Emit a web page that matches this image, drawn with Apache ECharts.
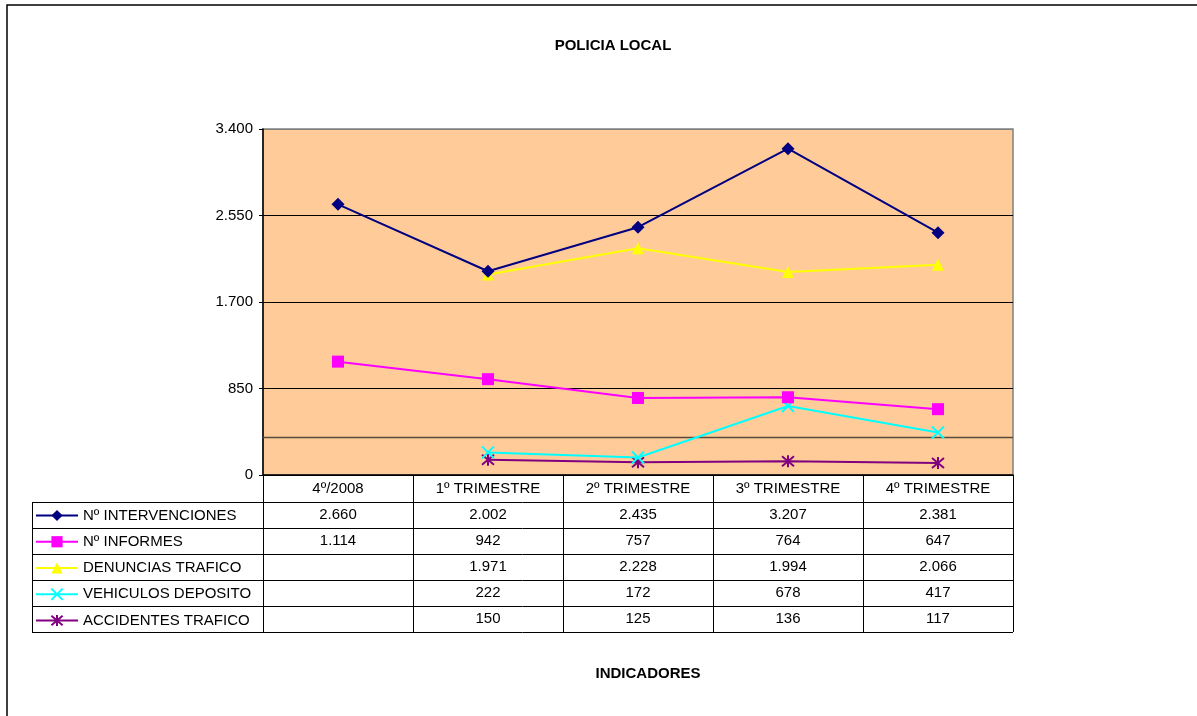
<!DOCTYPE html>
<html><head><meta charset="utf-8">
<script src="https://cdn.jsdelivr.net/npm/echarts@6/dist/echarts.min.js"></script>
<style>html,body{margin:0;padding:0;background:#fff}#c{width:1197px;height:716px}</style>
</head><body><div id="c"></div>
<script>
const categories = ['4º/2008', '1º TRIMESTRE', '2º TRIMESTRE', '3º TRIMESTRE', '4º TRIMESTRE'];
const seriesNames = ['Nº INTERVENCIONES', 'Nº INFORMES', 'DENUNCIAS TRAFICO', 'VEHICULOS DEPOSITO', 'ACCIDENTES TRAFICO'];
const intervenciones = [2660, 2002, 2435, 3207, 2381];
const informes = [1114, 942, 757, 764, 647];
const denuncias = [null, 1971, 2228, 1994, 2066];
const vehiculos = [null, 222, 172, 678, 417];
const accidentes = [null, 150, 125, 136, 117];
const yTicks = [0, 850, 1700, 2550, 3400];
const refLine = 372;

const allData = [intervenciones, informes, denuncias, vehiculos, accidentes];
const colors = ['#000080', '#FF00FF', '#FFFF00', '#00FFFF', '#800080'];
const symbols = ['diamond', 'rect', 'triangle', 'path://M0,0L10,10M10,0L0,10', 'path://M0,0L10,10M10,0L0,10M5,-1L5,11'];
const symSizes = [13, 12, 12, 12, 12];
const fmt = v => v == null ? '' : String(v).replace(/\B(?=(\d{3})+(?!\d))/g, '.');
const FONT = 'Liberation Sans, Arial';
const FS = 15;

const G = {left: 263, top: 129, right: 1013, bottom: 475};
const rowH = 26;
const tableLeft = 32;
const headerBottom = 502;

const chart = echarts.init(document.getElementById('c'));
const series = allData.map((d, i) => {
  const isStroke = i >= 3;
  return {
    name: seriesNames[i], type: 'line', data: d,
    symbol: symbols[i], symbolSize: symSizes[i], showSymbol: true,
    lineStyle: {color: colors[i], width: 2},
    itemStyle: isStroke ? {color: 'rgba(0,0,0,0)', borderColor: colors[i], borderWidth: 2} : {color: colors[i], borderWidth: 0},
    emphasis: {disabled: true},
    animation: false,
    z: 10 - i
  };
});
series[0].markLine = {
  silent: true, symbol: 'none', label: {show: false},
  lineStyle: {color: '#5a4a3a', width: 1.3, type: 'solid'},
  data: [{yAxis: refLine}]
};

chart.setOption({
  animation: false,
  title: [
    {text: 'POLICIA LOCAL', left: 608, top: 33, textAlign: 'center',
     textStyle: {fontFamily: FONT, fontSize: FS, fontWeight: 'bold', color: '#000'}},
    {text: 'INDICADORES', left: 643, top: 661, textAlign: 'center',
     textStyle: {fontFamily: FONT, fontSize: FS, fontWeight: 'bold', color: '#000'}}
  ],
  grid: {left: G.left, top: G.top, width: G.right - G.left, height: G.bottom - G.top,
         show: true, backgroundColor: '#FFCC99', borderColor: '#808080', borderWidth: 1.5},
  legend: {
    orient: 'vertical', left: 35, top: headerBottom + 6, padding: 0, itemGap: 11.25, itemWidth: 42, itemHeight: 14,
    data: seriesNames, selectedMode: false,
    textStyle: {fontFamily: FONT, fontSize: FS, color: '#000'}
  },
  xAxis: {
    type: 'category', data: categories, boundaryGap: true,
    axisLine: {lineStyle: {color: '#000', width: 1.5}},
    axisTick: {show: false},
    axisLabel: {fontFamily: FONT, fontSize: FS, color: '#000', margin: 6},
    splitLine: {show: false}
  },
  yAxis: {
    type: 'value', min: yTicks[0], max: yTicks[yTicks.length - 1], interval: yTicks[1] - yTicks[0],
    axisLine: {show: true, lineStyle: {color: '#000', width: 1.5}},
    axisTick: {show: true, length: 4, lineStyle: {color: '#000'}},
    axisLabel: {fontFamily: FONT, fontSize: FS, color: '#000', margin: 10, formatter: v => fmt(v)},
    splitLine: {show: true, lineStyle: {color: ['#000', '#000', '#000', '#000', '#808080'], width: 1}}
  },
  series
});

// Data table drawn as graphic elements
const colXs = categories.map((c, i) => chart.convertToPixel({xAxisIndex: 0}, i));
const colW = (G.right - G.left) / categories.length;
const nRows = allData.length;
const tableBottom = headerBottom + nRows * rowH;
const els = [];
const line = (x1, y1, x2, y2) => els.push({type: 'line', shape: {x1, y1, x2, y2}, style: {stroke: '#000', lineWidth: 1}, silent: true, z: 100});
for (let r = 0; r <= nRows; r++) line(tableLeft, headerBottom + r * rowH + 0.5, G.right, headerBottom + r * rowH + 0.5);
line(tableLeft + 0.5, headerBottom, tableLeft + 0.5, tableBottom);
for (let c = 0; c <= categories.length; c++) {
  const x = Math.round(G.left + c * colW) + 0.5;
  line(x, G.bottom, x, tableBottom);
}
allData.forEach((d, r) => {
  d.forEach((v, c) => {
    if (v == null) return;
    els.push({type: 'text', x: colXs[c], y: headerBottom + r * rowH + rowH / 2, silent: true, z: 100,
      style: {text: fmt(v), fill: '#000', font: FS + 'px "Liberation Sans", Arial', align: 'center', verticalAlign: 'middle'}});
  });
});
els.push({type: 'rect', shape: {x: 7, y: 5, width: 1300, height: 800}, style: {fill: 'none', stroke: '#000', lineWidth: 1.5}, silent: true});
chart.setOption({graphic: els});
</script>
</body></html>
